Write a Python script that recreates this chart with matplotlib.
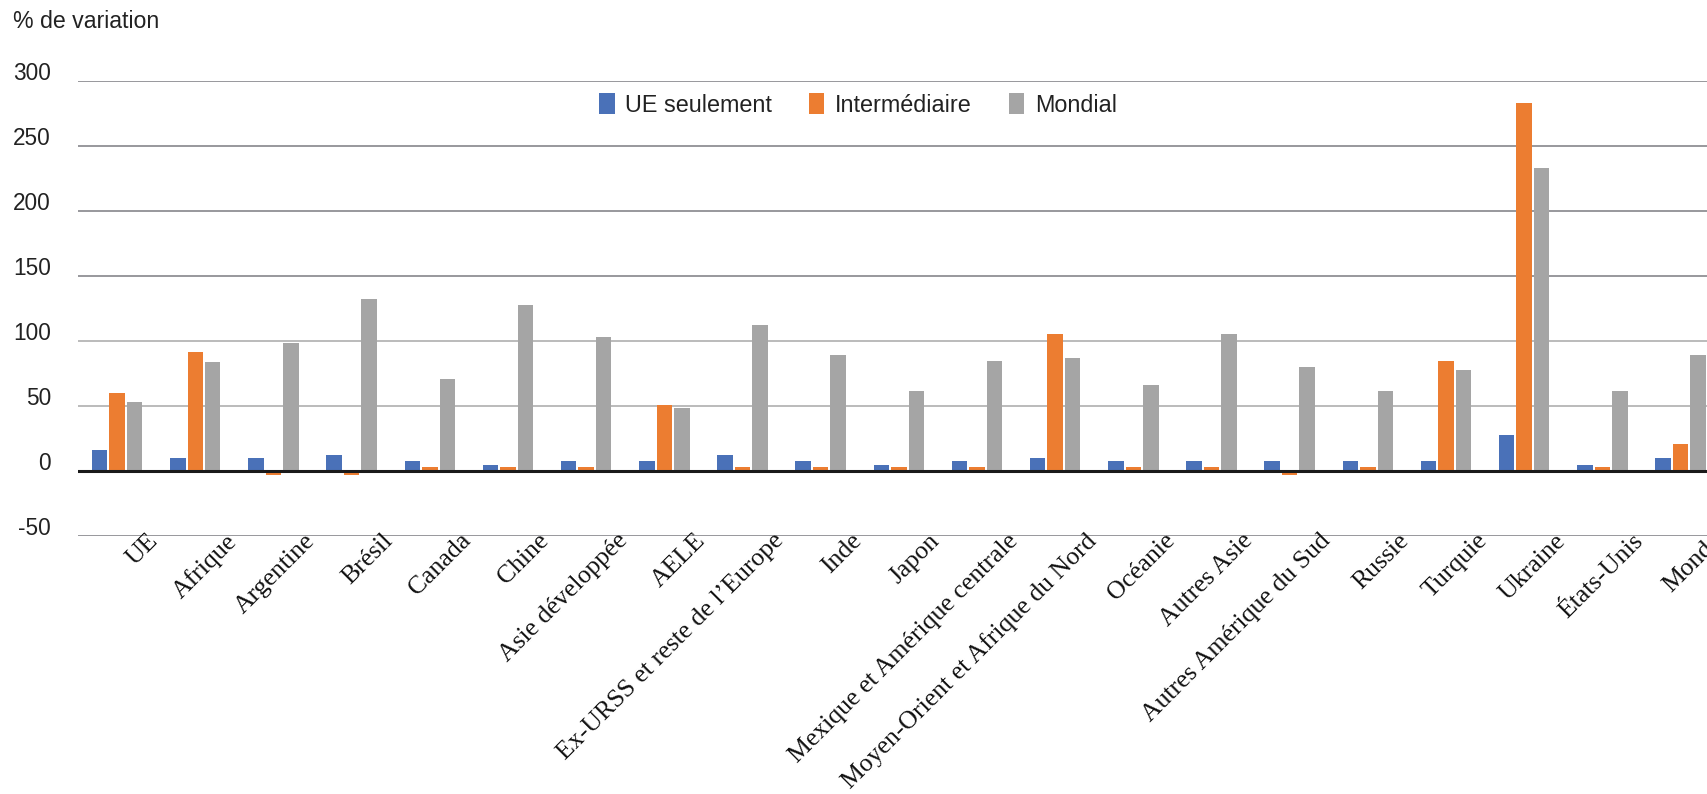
import matplotlib
matplotlib.use("Agg")
import matplotlib.pyplot as plt
import matplotlib.transforms as mtransforms
import numpy as np

categories = ["UE", "Afrique", "Argentine", "Brésil", "Canada", "Chine",
              "Asie développée", "AELE", "Ex-URSS et reste de l’Europe", "Inde",
              "Japon", "Mexique et Amérique centrale",
              "Moyen-Orient et Afrique du Nord", "Océanie", "Autres Asie",
              "Autres Amérique du Sud", "Russie", "Turquie", "Ukraine",
              "États-Unis", "Monde"]
ue_seulement = [16, 10, 10, 12, 7.5, 4.5, 7.5, 7.5, 12, 7.5, 4.5, 7.5, 10, 7.5,
                7.5, 7.5, 7.5, 7.5, 27.5, 4.5, 10]
intermediaire = [60, 91, -3, -3, 3, 3, 3, 50.5, 3, 3, 3, 3, 105, 3, 3, -3, 3,
                 84.5, 282.5, 3, 20.5]
mondial = [53, 84, 98, 132, 70.5, 127.5, 103, 48, 112, 89, 61, 84.5, 86.5, 66,
           105, 79.5, 61, 77.5, 232.5, 61, 89]
series_names = ["UE seulement", "Intermédiaire", "Mondial"]
yticks = [-50, 0, 50, 100, 150, 200, 250, 300]

colors = ["#4A71B8", "#EC7D31", "#A5A5A5"]

W, H, DPI = 1707, 794, 100
fig = plt.figure(figsize=(W / DPI, H / DPI), dpi=DPI)
ax = fig.add_axes([78 / W, 1 - 535.7 / H, 1 - 78 / W, (535.7 - 80.7) / H])

x = np.arange(len(categories))
offs = 17.5 / 78.2
bw = 15.5 / 78.2
for i, (vals, c, name) in enumerate(zip([ue_seulement, intermediaire, mondial],
                                       colors, series_names)):
    ax.bar(x + (i - 1) * offs, vals, width=bw, color=c, label=name, zorder=3)

ax.set_xlim(-0.5, (W - 116.5) / 78.2)
ax.set_ylim(-50, 300)

# gridlines
for v in yticks:
    if v == 0:
        ax.axhline(v, color="#1a1a1a", lw=2.2, zorder=4)
    elif v in (50, 100):
        ax.axhline(v, color="#b5b5b5", lw=1.3, zorder=1)
    else:
        ax.axhline(v, color="#909094", lw=1.3, zorder=1)

for s in ax.spines.values():
    s.set_visible(False)

ax.set_yticks(yticks)
ax.set_yticklabels([str(v) for v in yticks], fontsize=16.3, color="#222222",
                   family="Liberation Sans")
ax.tick_params(axis="y", length=0, pad=19.4)
up = mtransforms.ScaledTranslation(0, 10 / DPI, fig.dpi_scale_trans)
for lab in ax.get_yticklabels():
    lab.set_transform(lab.get_transform() + up)

ax.set_xticks(x)
ax.set_xticklabels(categories, rotation=45, ha="right", va="top",
                   rotation_mode="anchor", fontsize=18.5,
                   family="Liberation Serif", color="#111111")
ax.tick_params(axis="x", length=0, pad=0)
shift = mtransforms.ScaledTranslation(30 / DPI, 6 / DPI, fig.dpi_scale_trans)
for lab in ax.get_xticklabels():
    lab.set_transform(lab.get_transform() + shift)

fig.text(13 / W, 1 - 22 / H, "% de variation", fontsize=16.7,
         family="Liberation Sans", color="#222222", va="center", ha="left")

leg = ax.legend(loc="center", bbox_to_anchor=(858 / W, 1 - 105 / H),
                bbox_transform=fig.transFigure, ncol=3, frameon=False,
                prop={"family": "Liberation Sans", "size": 16.8},
                handlelength=0.65, handleheight=1.0, handletextpad=0.45,
                columnspacing=1.6, borderpad=0)
for t in leg.get_texts():
    t.set_color("#222222")

fig.savefig("out.png", dpi=DPI)
